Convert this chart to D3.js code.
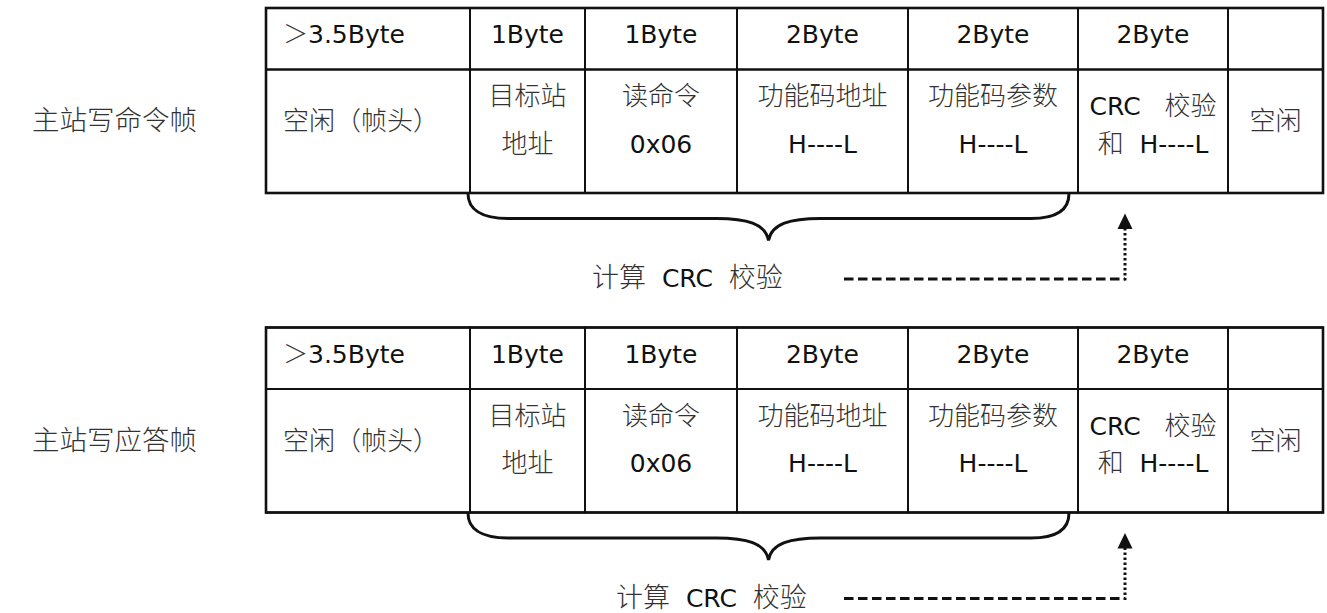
<!DOCTYPE html>
<html>
<head>
<meta charset="utf-8">
<script src="https://cdn.jsdelivr.net/npm/d3@7/dist/d3.min.js"></script>
<style>
  html, body { margin: 0; padding: 0; background: #fff; }
  svg { display: block; }
  text { white-space: pre; }
</style>
</head>
<body>
<script>
// ---- data ----
const frameNames = ["主站写命令帧", "主站写应答帧"];
const byteLabels = ["＞3.5Byte", "1Byte", "1Byte", "2Byte", "2Byte", "2Byte", ""];
const fieldLine1 = ["空闲（帧头）", "目标站", "读命令", "功能码地址", "功能码参数", "CRC   校验", "空闲"];
const fieldLine2 = ["", "地址", "0x06", "H----L", "H----L", "和  H----L", ""];
const crcLabel = "计算  CRC  校验";

// ---- layout ----
const W = 1327, H = 613;
const colEdges = [266, 470, 585, 737, 908, 1078, 1228, 1323];
const x = d3.scaleLinear().domain(d3.range(colEdges.length)).range(colEdges);
const frameY = d3.scaleLinear().domain([0, 1]).range([8, 327.5]);
const headH = 61.5, bodyH = 123.5;
const labelX = [592, 616];

const CJK = '"Noto Sans CJK SC", "Noto Sans CJK JP", sans-serif';
const LAT = '"DejaVu Sans", sans-serif';

const svg = d3.select("body").append("svg").attr("width", W).attr("height", H);

function mixedText(sel, str, size, cjkSize) {
  const runs = [];
  const re = /[\u3000-\u9fff\uff00-\uffef]/;
  for (const ch of str) {
    const isC = re.test(ch);
    if (runs.length && runs[runs.length - 1].c === isC) runs[runs.length - 1].t += ch;
    else runs.push({ c: isC, t: ch });
  }
  runs.forEach(r => {
    sel.append("tspan")
      .attr("font-family", r.c ? CJK : LAT)
      .attr("font-weight", r.c ? 300 : 400)
      .attr("fill", r.c ? "#333" : "#111")
      .attr("font-size", r.c ? (cjkSize || size) : size)
      .text(r.t);
  });
  return sel;
}

frameNames.forEach((name, f) => {
  const top = frameY(f);
  const g = svg.append("g").attr("transform", `translate(0,${top})`);
  const nCols = byteLabels.length;
  const cols = d3.range(nCols);

  // title
  mixedText(g.append("text").attr("x", 32).attr("y", 122), name, 27.5);

  // header cells
  g.selectAll("rect.h").data(cols).join("rect")
    .attr("class", "h")
    .attr("x", i => x(i)).attr("y", 0)
    .attr("width", i => x(i + 1) - x(i)).attr("height", headH)
    .attr("fill", "none").attr("stroke", "#111").attr("stroke-width", 2);
  // body cells
  g.selectAll("rect.b").data(cols).join("rect")
    .attr("class", "b")
    .attr("x", i => x(i)).attr("y", headH)
    .attr("width", i => x(i + 1) - x(i)).attr("height", bodyH)
    .attr("fill", "none").attr("stroke", "#111").attr("stroke-width", 2);
  // outer frame
  g.append("rect")
    .attr("x", x(0)).attr("y", 0)
    .attr("width", x(nCols) - x(0)).attr("height", headH + bodyH)
    .attr("fill", "none").attr("stroke", "#111").attr("stroke-width", 2.6);

  // header text
  cols.forEach(i => {
    if (!byteLabels[i]) return;
    const t = g.append("text").attr("y", 35);
    if (i === 0) t.attr("x", x(0) + 17).attr("text-anchor", "start");
    else t.attr("x", (x(i) + x(i + 1)) / 2).attr("text-anchor", "middle");
    mixedText(t, byteLabels[i], 25);
  });

  // body text
  cols.forEach(i => {
    const l1 = fieldLine1[i], l2 = fieldLine2[i];
    const cx = (x(i) + x(i + 1)) / 2;
    if (!l2) {
      const t = g.append("text").attr("y", headH + 60.5);
      if (i === 0) t.attr("x", x(0) + 17).attr("text-anchor", "start");
      else t.attr("x", cx).attr("text-anchor", "middle");
      mixedText(t, l1, 26);
    } else {
      const isCrc = i === 5;
      mixedText(g.append("text").attr("x", cx).attr("text-anchor", "middle")
        .attr("y", headH + (isCrc ? 45.5 : 35.5)), l1, isCrc ? 25 : 26, 26);
      mixedText(g.append("text").attr("x", cx).attr("text-anchor", "middle")
        .attr("y", headH + 83), l2, 25, 26);
    }
  });

  // brace under columns 1..4
  const b = headH + bodyH + 0.5;
  const x0 = x(1) - 2, x1 = x(5) - 9, xm = (x0 + x1) / 2;
  const yf = b + 25, yt = b + 47;
  const p = d3.path();
  p.moveTo(x0, b);
  p.bezierCurveTo(x0, yf - 10, x0 + 12, yf, x0 + 40, yf);
  p.lineTo(xm - 52, yf);
  p.bezierCurveTo(xm - 22, yf, xm - 3, yf + 5, xm, yt);
  p.bezierCurveTo(xm + 3, yf + 5, xm + 22, yf, xm + 52, yf);
  p.lineTo(x1 - 38, yf);
  p.bezierCurveTo(x1 - 10, yf, x1, yf - 10, x1, b);
  g.append("path").attr("d", p.toString())
    .attr("fill", "none").attr("stroke", "#111").attr("stroke-width", 3);

  // CRC label
  mixedText(g.append("text").attr("x", labelX[f]).attr("y", 279), crcLabel, 25, 27);

  // dashed connector + arrow
  const ax = x(5) + 47;
  const ly = 271;
  g.append("line").attr("x1", x(4) - 64).attr("x2", ax).attr("y1", ly).attr("y2", ly)
    .attr("stroke", "#111").attr("stroke-width", 3.2).attr("stroke-dasharray", "9.5,4.5");
  g.append("line").attr("x1", ax).attr("x2", ax).attr("y1", ly + 1.5).attr("y2", b + 33)
    .attr("stroke", "#111").attr("stroke-width", 3).attr("stroke-dasharray", "2.5,2.5");
  g.append("path")
    .attr("d", `M${ax},${b + 20}L${ax - 7.5},${b + 35.5}L${ax + 7.5},${b + 35.5}Z`)
    .attr("fill", "#111");
});
</script>
</body>
</html>
